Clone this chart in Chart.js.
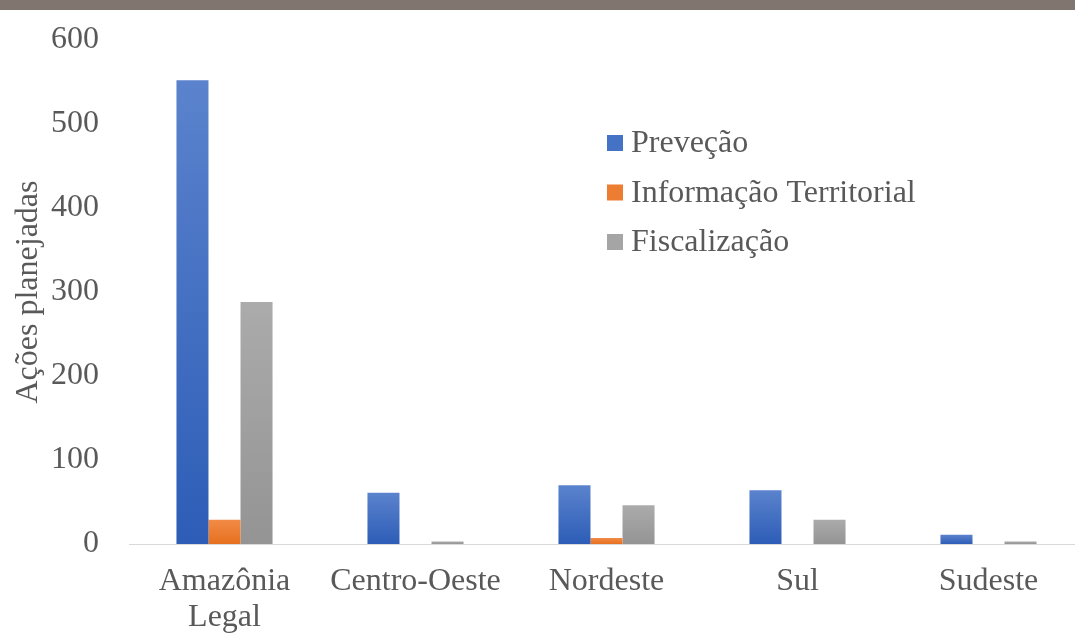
<!DOCTYPE html>
<html>
<head>
<meta charset="utf-8">
<script src="https://cdn.jsdelivr.net/npm/chart.js@4/dist/chart.umd.min.js"></script>
<style>
  html, body { margin: 0; padding: 0; background: #ffffff; overflow: hidden; width: 1075px; height: 637px; }
  #band { position: absolute; left: 0; top: 0; width: 1075px; height: 10px; background: #80766f; z-index: 2; }
  #wrap { position: absolute; left: 0; top: 0; width: 1090px; height: 637px; }
</style>
</head>
<body>
<div id="band"></div>
<div id="wrap"><canvas id="c" width="1090" height="637"></canvas></div>
<script>
const categories = [['Amazônia', 'Legal'], 'Centro-Oeste', 'Nordeste', 'Sul', 'Sudeste'];
const seriesNames = ['Preveção', 'Informação Territorial', 'Fiscalização'];
const prevencao = [552, 61, 70, 64, 11];
const informacaoTerritorial = [29, 0, 7, 0, 0];
const fiscalizacao = [288, 3, 46, 29, 3];
const yTicks = [0, 100, 200, 300, 400, 500, 600];

const FONT = "'Liberation Serif', 'Times New Roman', serif";
const TXT = '#595959';

function grad(cTop, cBot) {
  return (ctx) => {
    const ch = ctx.chart;
    if (!ch.chartArea || !ch.scales.y) return cBot;
    const y = ch.scales.y;
    const top = y.getPixelForValue(ctx.raw);
    const bot = y.getPixelForValue(0);
    if (!(bot - top > 1)) return cBot;
    const g = ch.ctx.createLinearGradient(0, top, 0, bot);
    g.addColorStop(0, cTop);
    g.addColorStop(1, cBot);
    return g;
  };
}

const legendColors = ['#4472C4', '#ED7D31', '#A5A5A5'];

const legendPlugin = {
  id: 'insideLegend',
  afterDraw(chart) {
    const ctx = chart.ctx;
    ctx.save();
    ctx.font = '32px ' + FONT;
    ctx.textBaseline = 'middle';
    ctx.textAlign = 'left';
    chart.data.datasets.forEach((ds, i) => {
      const cy = 143 + i * 49.5;
      ctx.fillStyle = legendColors[i];
      ctx.fillRect(607, cy - 8, 16, 16);
      ctx.fillStyle = TXT;
      ctx.fillText(ds.label, 631, cy + 1);
    });
    ctx.restore();
  }
};

new Chart(document.getElementById('c'), {
  type: 'bar',
  data: {
    labels: categories,
    datasets: [
      { label: seriesNames[0], data: prevencao, backgroundColor: grad('#5b83cd', '#2d5db7') },
      { label: seriesNames[1], data: informacaoTerritorial, backgroundColor: grad('#f28b46', '#e6701f') },
      { label: seriesNames[2], data: fiscalizacao, backgroundColor: grad('#ababab', '#949494') }
    ]
  },
  options: {
    responsive: false,
    animation: false,
    events: [],
    layout: { padding: { top: 40, right: 6, bottom: 0, left: 0 } },
    datasets: { bar: { barPercentage: 1.0, categoryPercentage: 0.503 } },
    plugins: { legend: { display: false }, tooltip: { enabled: false } },
    scales: {
      x: {
        grid: { display: false, drawTicks: false },
        border: { display: true, color: '#d9d9d9', width: 1 },
        ticks: { color: TXT, font: { family: FONT, size: 32, lineHeight: 1.12 }, padding: 20, maxRotation: 0, autoSkip: false },
        afterFit(s) { s.height = 93; s.paddingLeft = 0; s.paddingRight = 0; }
      },
      y: {
        min: 0, max: 600,
        afterBuildTicks(s) { s.ticks = yTicks.map(v => ({ value: v })); },
        grid: { display: false, drawTicks: false },
        border: { display: false },
        ticks: { color: TXT, font: { family: FONT, size: 32 }, padding: 30 },
        title: { display: true, text: 'Ações planejadas', color: TXT, font: { family: FONT, size: 32, lineHeight: 1.2 }, padding: { top: 9, bottom: 0 } },
        afterFit(s) { s.width = 129; s.paddingTop = 0; s.paddingBottom = 0; }
      }
    }
  },
  plugins: [legendPlugin]
});
</script>
</body>
</html>
